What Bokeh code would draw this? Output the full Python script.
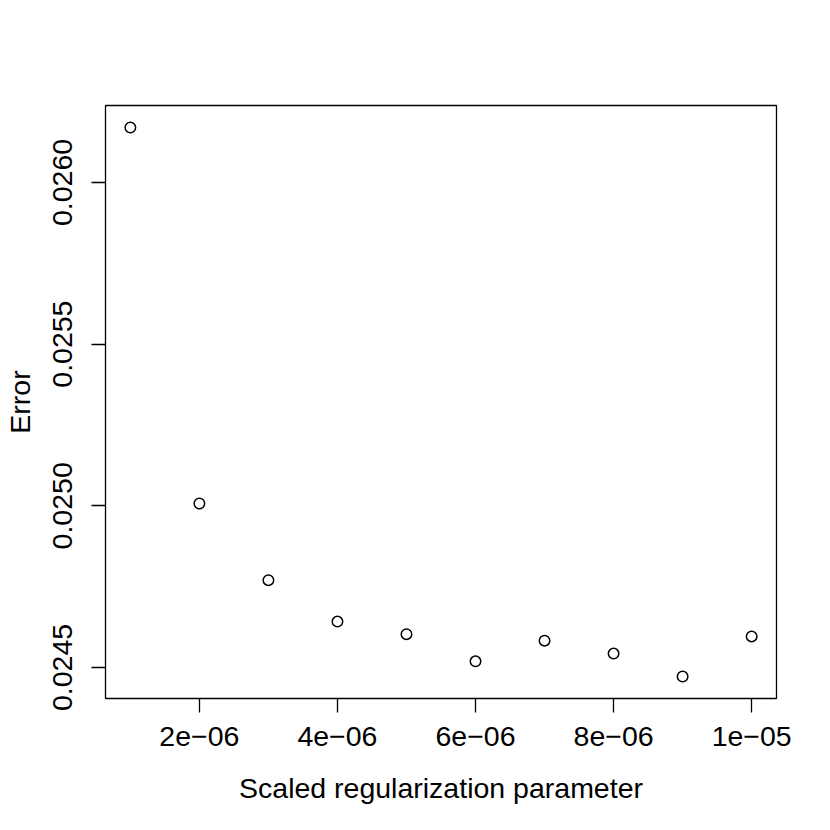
from bokeh.plotting import figure
from bokeh.models import Range1d, FixedTicker
from bokeh.embed import file_html
from bokeh.resources import INLINE

# Data
reg_param = [1e-6, 2e-6, 3e-6, 4e-6, 5e-6, 6e-6, 7e-6, 8e-6, 9e-6, 1e-5]
error = [0.026170, 0.025007, 0.024770, 0.024642, 0.024603,
         0.024519, 0.024583, 0.024543, 0.024472, 0.024596]

x_ticks = [2e-6, 4e-6, 6e-6, 8e-6, 1e-5]
x_tick_labels = ["2e\u221206", "4e\u221206", "6e\u221206", "8e\u221206", "1e\u221205"]
y_ticks = [0.0245, 0.0250, 0.0255, 0.0260]
y_tick_labels = ["0.0245", "0.0250", "0.0255", "0.0260"]

# R-style 4% axis extension
xr = max(reg_param) - min(reg_param)
yr = max(error) - min(error)
x_range = Range1d(min(reg_param) - 0.04 * xr, max(reg_param) + 0.04 * xr)
y_range = Range1d(min(error) - 0.04 * yr, max(error) + 0.04 * yr)

FONT = "Liberation Sans"
FS = "28.5px"

p = figure(width=814, height=814, x_range=x_range, y_range=y_range,
           output_backend="svg", toolbar_location=None,
           min_border_left=105, min_border_top=105,
           min_border_right=38, min_border_bottom=116)

p.scatter(reg_param, error, marker="circle", size=10.5,
          fill_color=None, line_color="black", line_width=1.5)

p.xgrid.visible = False
p.ygrid.visible = False
p.background_fill_color = "white"
p.border_fill_color = "white"
p.outline_line_color = "black"
p.outline_line_width = 1.3
p.outline_line_alpha = 1.0

p.xaxis.ticker = FixedTicker(ticks=x_ticks)
p.xaxis.major_label_overrides = dict(zip(x_ticks, x_tick_labels))
p.yaxis.ticker = FixedTicker(ticks=y_ticks)
p.yaxis.major_label_overrides = dict(zip(y_ticks, y_tick_labels))

p.xaxis.axis_label = "Scaled regularization parameter"
p.yaxis.axis_label = "Error"

for ax in (p.xaxis, p.yaxis):
    ax.axis_line_color = None
    ax.minor_tick_line_color = None
    ax.major_tick_line_color = "black"
    ax.major_tick_line_width = 1.3
    ax.major_tick_in = 0
    ax.major_tick_out = 14
    ax.major_label_text_font = FONT
    ax.major_label_text_font_size = FS
    ax.major_label_text_color = "black"
    ax.axis_label_text_font = FONT
    ax.axis_label_text_font_size = FS
    ax.axis_label_text_font_style = "normal"
    ax.axis_label_text_color = "black"

p.xaxis.major_label_standoff = 14
p.xaxis.axis_label_standoff = 23
p.yaxis.major_label_orientation = "vertical"
p.yaxis.major_label_standoff = 19
p.yaxis.axis_label_standoff = 15

open("out.html", "w").write(file_html(p, INLINE))
